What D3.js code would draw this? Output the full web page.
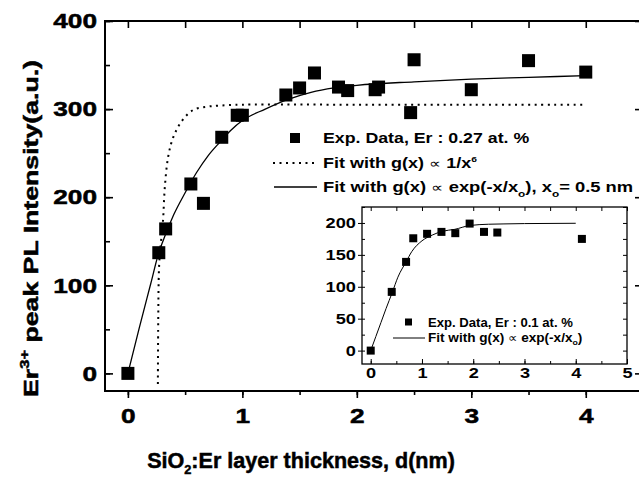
<!DOCTYPE html>
<html>
<head>
<meta charset="utf-8">
<script src="https://cdn.jsdelivr.net/npm/d3@7"></script>
<style>
  body { margin: 0; background: #fff; }
  text { font-family: "Liberation Sans", Arial, sans-serif; font-weight: bold; fill: #000; }
  .heavy text, text.heavy { stroke: #000; stroke-width: 0.5px; }
</style>
</head>
<body>
<script>
var width = 639;
var height = 477;

// main data, Er : 0.27 at. %
var mainX = [0, 0.27, 0.33, 0.55, 0.66, 0.82, 0.955, 1.0, 1.38, 1.50, 1.63, 1.84, 1.92, 2.16, 2.19, 2.47, 2.50, 3.0, 3.5, 4.0];
var mainY = [0, 137, 164, 215, 193, 268, 293, 293, 316, 324, 341, 325, 321, 322, 325, 296, 356, 322, 355, 342];

// fit with exp(-x/x0)
var expFitX = [0, 0.1, 0.2, 0.27, 0.3, 0.4, 0.5, 0.6, 0.7, 0.8, 0.9, 1.0, 1.2, 1.4, 1.6, 1.8, 2.0, 2.5, 3.0, 3.5, 4.0];
var expFitY = [0, 52, 102, 137, 148, 180, 205, 228, 247, 262, 276, 287, 300, 311, 319, 324, 327, 331, 334, 336, 338];

// fit with 1/x^6 (dotted)
var powFitX = [0.262, 0.265, 0.272, 0.285, 0.30, 0.309, 0.323, 0.352, 0.396, 0.469, 0.57, 0.687, 0.8, 1.0, 2.0, 3.0, 3.97];
var powFitY = [-12, 60, 120, 145, 162, 178, 212, 246, 268, 286, 299, 302.6, 304, 305, 305, 305, 305];

// inset data, Er : 0.1 at. %
var insetX = [0, 0.41, 0.69, 0.83, 1.10, 1.38, 1.65, 1.93, 2.21, 2.47, 4.12];
var insetY = [0, 92, 139, 176, 183, 186, 184, 199, 186, 185, 175];
var insetFitX = [0, 0.1, 0.2, 0.3, 0.42, 0.53, 0.69, 0.8, 1.0, 1.2, 1.4, 1.64, 1.93, 2.3, 2.6, 3.0, 4.0];
var insetFitY = [0, 22, 44, 66, 91, 115, 139, 155, 172, 181, 187, 190, 196, 198, 198.5, 199, 199.5];

var xTicks = [0, 1, 2, 3, 4];
var yTicks = [0, 100, 200, 300, 400];
var insetXTicks = [0, 1, 2, 3, 4, 5];
var insetYTicks = [0, 50, 100, 150, 200];

var svg = d3.select("body").append("svg")
    .attr("width", width)
    .attr("height", height);

// the original lettering is wide, so text gets stretched sideways
function stretch(node, s, mode) {
  var bb = node.getBBox();
  var px = mode == "start" ? bb.x : mode == "end" ? bb.x + bb.width : bb.x + bb.width / 2;
  node.setAttribute("transform", "translate(" + px + ",0) scale(" + s + ",1) translate(" + (-px) + ",0)");
}
function fitTo(node, w, mode) {
  stretch(node, w / node.getBBox().width, mode);
}

var plot = { left: 105, top: 21, right: 643, bottom: 391 };

var x = d3.scaleLinear().domain([-0.2, 4.5]).range([plot.left, plot.right]);
var y = d3.scaleLinear().domain([-20, 400]).range([plot.bottom, plot.top]);

function zip(a, b) { return a.map(function(v, i) { return [v, b[i]]; }); }

// axes
var minorX = d3.range(0, 4.51, 0.5);
var minorY = d3.range(0, 401, 50);

svg.append("g")
  .attr("transform", "translate(0," + plot.bottom + ")")
  .call(d3.axisBottom(x).tickValues(minorX).tickSize(4).tickFormat(""))
  .call(function(g) { g.select(".domain").remove(); });
svg.append("g")
  .attr("class", "xaxis heavy")
  .attr("transform", "translate(0," + plot.bottom + ")")
  .call(d3.axisBottom(x).tickValues(xTicks).tickSize(7).tickPadding(10).tickFormat(d3.format("d")))
  .call(function(g) { g.select(".domain").remove(); });

svg.append("g")
  .attr("transform", "translate(0," + plot.top + ")")
  .call(d3.axisTop(x).tickValues(minorX).tickSize(-7).tickFormat(""))
  .call(function(g) { g.select(".domain").remove(); });

svg.append("g")
  .attr("transform", "translate(" + plot.left + ",0)")
  .call(d3.axisLeft(y).tickValues(minorY).tickSize(-5).tickFormat(""))
  .call(function(g) { g.select(".domain").remove(); });
svg.append("g")
  .attr("class", "yaxis heavy")
  .attr("transform", "translate(" + plot.left + ",0)")
  .call(d3.axisLeft(y).tickValues(yTicks).tickSize(-8).tickPadding(8).tickFormat(d3.format("d")))
  .call(function(g) { g.select(".domain").remove(); });

svg.append("g")
  .attr("transform", "translate(" + plot.right + ",0)")
  .call(d3.axisRight(y).tickValues(yTicks).tickSize(-8).tickFormat(""))
  .call(function(g) { g.select(".domain").remove(); });

svg.selectAll(".tick line").attr("stroke", "#000").attr("stroke-width", 1.6);
svg.selectAll(".xaxis text, .yaxis text").style("font-size", "21px");
svg.selectAll(".xaxis text").each(function() { stretch(this, 1.25, "middle"); });
svg.selectAll(".yaxis text").each(function() { stretch(this, 1.25, "end"); });

svg.append("rect")
  .attr("x", plot.left).attr("y", plot.top)
  .attr("width", plot.right - plot.left).attr("height", plot.bottom - plot.top)
  .attr("fill", "none").attr("stroke", "#000").attr("stroke-width", 2);

// fits
var line = d3.line()
  .x(function(d) { return x(d[0]); })
  .y(function(d) { return y(d[1]); })
  .curve(d3.curveMonotoneX);

svg.append("path")
  .datum(zip(powFitX, powFitY))
  .attr("d", d3.line().x(function(d) { return x(d[0]); }).y(function(d) { return y(d[1]); }).curve(d3.curveCatmullRom))
  .attr("fill", "none").attr("stroke", "#000")
  .attr("stroke-width", 2).attr("stroke-dasharray", "2,4.5");

svg.append("path")
  .datum(zip(expFitX, expFitY))
  .attr("d", line)
  .attr("fill", "none").attr("stroke", "#000").attr("stroke-width", 1.3);

var sq = 13;
svg.selectAll("rect.pt")
  .data(zip(mainX, mainY))
  .enter().append("rect")
    .attr("class", "pt")
    .attr("x", function(d) { return x(d[0]) - sq / 2; })
    .attr("y", function(d) { return y(d[1]) - sq / 2; })
    .attr("width", sq).attr("height", sq)
    .attr("fill", "#000");

// legend
var leg = svg.append("g").style("font-size", "14px");
leg.append("rect").attr("x", 290).attr("y", 133).attr("width", 10).attr("height", 10).attr("fill", "#000");
var t1 = leg.append("text").attr("x", 323).attr("y", 143).text("Exp. Data, Er : 0.27 at. %");
leg.append("line").attr("x1", 273).attr("x2", 318).attr("y1", 163).attr("y2", 163)
  .attr("stroke", "#000").attr("stroke-width", 2).attr("stroke-dasharray", "2,4.5");
var t2 = leg.append("text").attr("x", 323).attr("y", 168);
t2.append("tspan").text("Fit with g(x) ");
t2.append("tspan").style("font-weight", "normal").style("font-size", "13px").text("\u221D");
t2.append("tspan").text(" 1/x");
t2.append("tspan").attr("dy", -6).style("font-size", "8px").text("6");
leg.append("line").attr("x1", 274).attr("x2", 317).attr("y1", 187).attr("y2", 187)
  .attr("stroke", "#000").attr("stroke-width", 1.3);
var t3 = leg.append("text").attr("x", 323).attr("y", 192);
t3.append("tspan").text("Fit with g(x) ");
t3.append("tspan").style("font-weight", "normal").style("font-size", "13px").text("\u221D");
t3.append("tspan").text(" exp(-x/x");
t3.append("tspan").attr("dy", 5).style("font-size", "9px").text("o");
t3.append("tspan").attr("dy", -5).text("), x");
t3.append("tspan").attr("dy", 5).style("font-size", "9px").text("o");
t3.append("tspan").attr("dy", -5).text("= 0.5 nm");
fitTo(t1.node(), 207, "start");
fitTo(t2.node(), 154, "start");
fitTo(t3.node(), 310, "start");

// axis titles
var xt = svg.append("text")
  .attr("class", "heavy")
  .attr("x", 301).attr("y", 468)
  .attr("text-anchor", "middle")
  .style("font-size", "22px");
xt.append("tspan").text("SiO");
xt.append("tspan").attr("dy", 6).style("font-size", "13px").text("2");
xt.append("tspan").attr("dy", -6).text(":Er layer thickness, d(nm)");
fitTo(xt.node(), 308, "middle");

var ytg = svg.append("g").attr("transform", "translate(38,228.5) rotate(-90)");
var yt = ytg.append("text")
  .attr("class", "heavy")
  .attr("text-anchor", "middle")
  .style("font-size", "21px");
yt.append("tspan").text("Er");
yt.append("tspan").attr("dy", -9).style("font-size", "13px").text("3+");
yt.append("tspan").attr("dy", 9).text(" peak PL Intensity(a.u.)");
yt.attr("transform", "scale(" + (337 / yt.node().getBBox().width) + ",1)");

// inset
var ins = { left: 362, top: 207, right: 627, bottom: 364 };
var ix = d3.scaleLinear().domain([-0.17, 5]).range([ins.left, ins.right]);
var iy = d3.scaleLinear().domain([-21, 225]).range([ins.bottom, ins.top]);

var ig = svg.append("g");
ig.append("rect")
  .attr("x", ins.left).attr("y", ins.top)
  .attr("width", ins.right - ins.left).attr("height", ins.bottom - ins.top)
  .attr("fill", "#fff");

var iMinorX = d3.range(0, 5.01, 0.5);
var iMinorY = d3.range(0, 226, 25);

ig.append("g")
  .attr("class", "ixaxis")
  .attr("transform", "translate(0," + ins.bottom + ")")
  .call(d3.axisBottom(ix).tickValues(insetXTicks).tickSize(-5).tickPadding(4).tickFormat(d3.format("d")))
  .call(function(g) { g.select(".domain").remove(); });
ig.append("g")
  .attr("transform", "translate(0," + ins.bottom + ")")
  .call(d3.axisBottom(ix).tickValues(iMinorX).tickSize(-3).tickFormat(""))
  .call(function(g) { g.select(".domain").remove(); });
ig.append("g")
  .attr("transform", "translate(0," + ins.top + ")")
  .call(d3.axisTop(ix).tickValues(iMinorX).tickSize(-4).tickFormat(""))
  .call(function(g) { g.select(".domain").remove(); });
ig.append("g")
  .attr("class", "iyaxis")
  .attr("transform", "translate(" + ins.left + ",0)")
  .call(d3.axisLeft(iy).tickValues(insetYTicks).tickSize(4).tickPadding(2).tickFormat(d3.format("d")))
  .call(function(g) { g.select(".domain").remove(); });
ig.append("g")
  .attr("transform", "translate(" + ins.left + ",0)")
  .call(d3.axisLeft(iy).tickValues(iMinorY).tickSize(-3).tickFormat(""))
  .call(function(g) { g.select(".domain").remove(); });
ig.append("g")
  .attr("transform", "translate(" + ins.right + ",0)")
  .call(d3.axisRight(iy).tickValues(iMinorY).tickSize(-4).tickFormat(""))
  .call(function(g) { g.select(".domain").remove(); });

ig.selectAll(".tick line").attr("stroke", "#000").attr("stroke-width", 1);
ig.selectAll(".ixaxis text, .iyaxis text").style("font-size", "14px");
ig.selectAll(".ixaxis text").each(function() { stretch(this, 1.3, "middle"); });
ig.selectAll(".iyaxis text").each(function() { stretch(this, 1.3, "end"); });

ig.append("rect")
  .attr("x", ins.left).attr("y", ins.top)
  .attr("width", ins.right - ins.left).attr("height", ins.bottom - ins.top)
  .attr("fill", "none").attr("stroke", "#000").attr("stroke-width", 1.3);

ig.append("path")
  .datum(zip(insetFitX, insetFitY))
  .attr("d", d3.line().x(function(d) { return ix(d[0]); }).y(function(d) { return iy(d[1]); }).curve(d3.curveMonotoneX))
  .attr("fill", "none").attr("stroke", "#000").attr("stroke-width", 1);

var isq = 8;
ig.selectAll("rect.ipt")
  .data(zip(insetX, insetY))
  .enter().append("rect")
    .attr("class", "ipt")
    .attr("x", function(d) { return ix(d[0]) - isq / 2; })
    .attr("y", function(d) { return iy(d[1]) - isq / 2; })
    .attr("width", isq).attr("height", isq)
    .attr("fill", "#000");

var il = ig.append("g").style("font-size", "12.5px");
il.append("rect").attr("x", 405).attr("y", 318.5).attr("width", 7).attr("height", 7).attr("fill", "#000");
var it1 = il.append("text").attr("x", 428).attr("y", 327).text("Exp. Data, Er : 0.1 at. %");
il.append("line").attr("x1", 393).attr("x2", 425).attr("y1", 338).attr("y2", 338)
  .attr("stroke", "#000").attr("stroke-width", 1);
var it2 = il.append("text").attr("x", 428).attr("y", 342);
it2.append("tspan").text("Fit with g(x) ");
it2.append("tspan").style("font-weight", "normal").style("font-size", "12px").text("\u221D");
it2.append("tspan").text(" exp(-x/x");
it2.append("tspan").attr("dy", 3).style("font-size", "8px").text("o");
it2.append("tspan").attr("dy", -3).text(")");
fitTo(it1.node(), 145, "start");
fitTo(it2.node(), 155, "start");
</script>
</body>
</html>
